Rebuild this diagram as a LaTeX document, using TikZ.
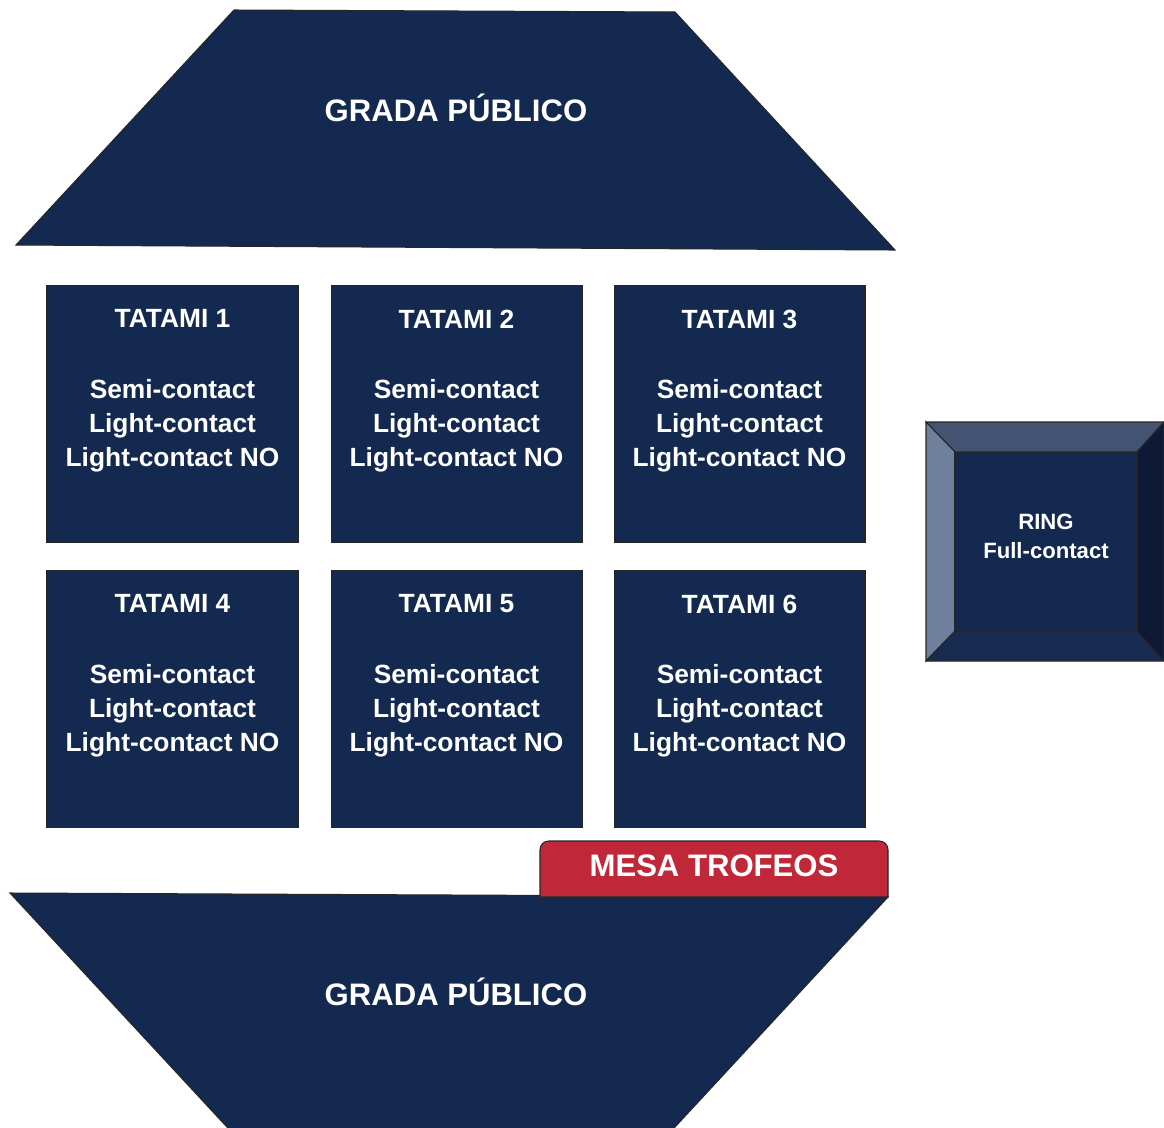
\documentclass[tikz,border=0pt]{standalone}
\usepackage{fontspec}
\setmainfont{Liberation Sans}
\usetikzlibrary{positioning}
\definecolor{navy}{HTML}{13294F}
\definecolor{bevtop}{HTML}{435473}
\definecolor{bevleft}{HTML}{6F809D}
\definecolor{bevbot}{HTML}{182B51}
\definecolor{bevright}{HTML}{0E1A35}
\definecolor{trofeo}{HTML}{C0283A}

\begin{document}
\begin{tikzpicture}[
        x=0.02cm, y=-0.02cm,
        zone/.style={draw=black!85, line width=0.6pt, fill=navy},
        tatami/.style={zone, minimum width=5.02cm, minimum height=5.14cm, inner sep=0pt},
        tlbl/.style={text=white, font=\fontsize{15}{19.3}\selectfont\bfseries, align=center},
        gradalbl/.style={text=white, font=\fontsize{17.7}{21}\selectfont\bfseries},
        bevel/.style={draw=black!85, line width=0.6pt},
    ]
    \clip (0,0) rectangle (1164,1127);

    % stands
    \draw[zone] (234,10) -- (675,12) -- (895,250) -- (16,245) -- cycle;
    \node[gradalbl] (gradatop) at (456,108) {GRADA PÚBLICO};
    \draw[zone] (10,893) -- (888,897) -- (663,1140) -- (239,1140) -- cycle;
    \node[gradalbl] (gradabot) at (456,992) {GRADA PÚBLICO};

    % tatamis
    \node[tatami] (tatami1) at (172.5,414) {};
    \node[tatami] (tatami2) at (456.5,414) {};
    \node[tatami] (tatami3) at (739.5,414) {};
    \node[tatami] (tatami4) at (172.5,699) {};
    \node[tatami] (tatami5) at (456.5,699) {};
    \node[tatami] (tatami6) at (739.5,699) {};
    \node[tlbl] (lbl1) at (172.5,391) {TATAMI 1\\[21pt]Semi-contact\\Light-contact\\Light-contact NO};
    \node[tlbl] (lbl2) at (456.5,391) {TATAMI 2\\[21pt]Semi-contact\\Light-contact\\Light-contact NO};
    \node[tlbl] (lbl3) at (739.5,391) {TATAMI 3\\[21pt]Semi-contact\\Light-contact\\Light-contact NO};
    \node[tlbl] (lbl4) at (172.5,676) {TATAMI 4\\[21pt]Semi-contact\\Light-contact\\Light-contact NO};
    \node[tlbl] (lbl5) at (456.5,676) {TATAMI 5\\[21pt]Semi-contact\\Light-contact\\Light-contact NO};
    \node[tlbl] (lbl6) at (739.5,676) {TATAMI 6\\[21pt]Semi-contact\\Light-contact\\Light-contact NO};

    % trophy table
    \draw[draw=black!85, line width=0.6pt, fill=trofeo]
        (540,897) {[rounded corners=5pt] -- (540,841) -- (888,841)} -- (888,897) -- cycle;
    \node[gradalbl, text=white] (mesa) at (714,866) {MESA TROFEOS};

    % ring with bevelled frame
    \coordinate (o1) at (926,422);
    \coordinate (o2) at (1164,422);
    \coordinate (o3) at (1164,661);
    \coordinate (o4) at (926,661);
    \coordinate (i1) at (955,452);
    \coordinate (i2) at (1137,452);
    \coordinate (i3) at (1137,631);
    \coordinate (i4) at (955,631);
    \draw[bevel, fill=bevtop]   (o1) -- (o2) -- (i2) -- (i1) -- cycle;
    \draw[bevel, fill=bevleft]  (o1) -- (i1) -- (i4) -- (o4) -- cycle;
    \draw[bevel, fill=bevbot]   (o4) -- (i4) -- (i3) -- (o3) -- cycle;
    \draw[bevel, fill=bevright] (o2) -- (o3) -- (i3) -- (i2) -- cycle;
    \node[zone, minimum width=3.64cm, minimum height=3.58cm, inner sep=0pt] (ring) at (1046,541.5) {};
    \node[text=white, font=\fontsize{12.6}{16.4}\selectfont\bfseries, align=center] (ringlbl) at (1046,536) {RING\\Full-contact};
\end{tikzpicture}
\end{document}
